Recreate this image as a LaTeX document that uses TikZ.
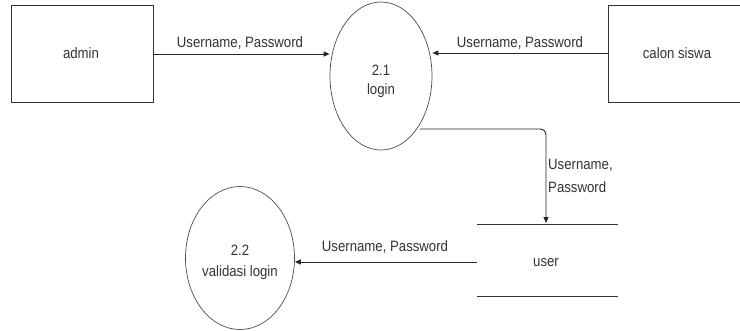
\documentclass[tikz,border=0pt]{standalone}
\usepackage{fontspec}
\setmainfont{Liberation Sans}[FakeStretch=0.88]
\usetikzlibrary{shapes.geometric,arrows.meta}
\begin{document}
\begin{tikzpicture}[x=1pt,y=-1pt,
  lbl/.style={font=\fontsize{15}{18}\selectfont, text=black!80, inner sep=0pt},
  proc/.style={draw=black!70, ellipse, line width=0.7pt, inner sep=0pt},
  ent/.style={draw=black!80, line width=0.8pt},
  flow/.style={draw=black!85, line width=0.9pt, -{Triangle[length=6pt,width=5pt]}}]
\useasboundingbox (0,0) rectangle (740,330);
\node[ent, minimum width=142pt, minimum height=97pt, inner sep=0pt] (admin) at (82,53.5) {};
\node[lbl] (admintxt) at (81,53) {admin};
\node[ent, minimum width=140pt, minimum height=97pt, inner sep=0pt] (calon) at (678,53.5) {};
\node[lbl] (calontxt) at (677,53) {calon siswa};
\node[proc, minimum width=102pt, minimum height=148pt] (p1) at (381,76) {};
\node[lbl] (p1a) at (381,70) {2.1};
\node[lbl] (p1b) at (381,91) {login};
\node[proc, minimum width=109pt, minimum height=143pt] (p2) at (240,258) {};
\node[lbl] (p2a) at (240,250) {2.2};
\node[lbl] (p2b) at (240,273) {validasi login};
\coordinate (st1) at (477,224);
\coordinate (st2) at (618,224);
\coordinate (st3) at (477,296);
\coordinate (st4) at (618,296);
\draw[ent] (st1) -- (st2);
\draw[ent] (st3) -- (st4);
\node[lbl] (user) at (546,263) {user};
\coordinate (storein) at (477,262);
\coordinate (storetop) at (546,223);
\draw[flow] (admin.east |- 0,54) -- (p1.west |- 0,54);
\node[lbl] (l1) at (240,43) {Username, Password};
\draw[flow] (calon.west |- 0,53) -- (p1.east |- 0,53);
\node[lbl] (l2) at (520,43) {Username, Password};
\coordinate (p1out) at (420,129);
\draw[flow, rounded corners=6pt] (p1out) -- (546,129) -- (storetop);
\node[lbl, anchor=west] (l3a) at (548,165) {Username,};
\node[lbl, anchor=west] (l3b) at (548,187) {Password};
\draw[flow] (storein) -- (p2.east |- 0,262);
\node[lbl] (l4) at (385,247) {Username, Password};
\end{tikzpicture}
\end{document}
